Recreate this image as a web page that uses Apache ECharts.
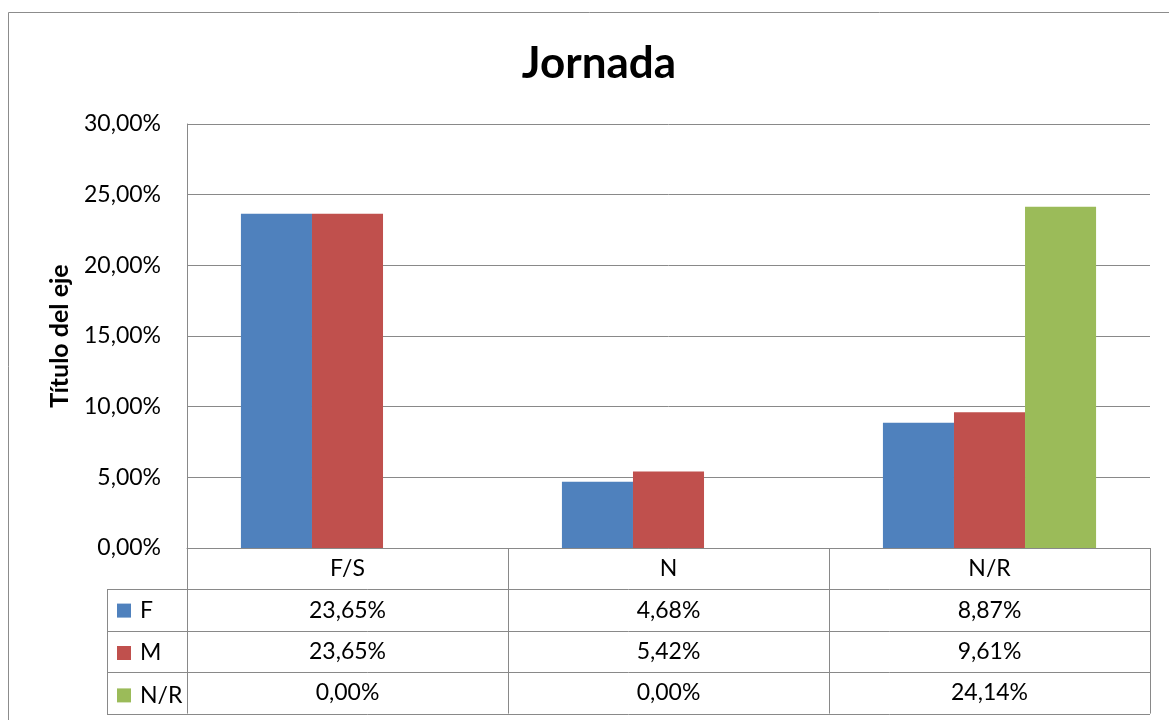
<!DOCTYPE html>
<html><head><meta charset="utf-8">
<script src="https://cdn.jsdelivr.net/npm/echarts@6/dist/echarts.min.js"></script>
<style>html,body{margin:0;padding:0;background:#fff}#c{width:1169px;height:720px}</style>
</head><body><div id="c"></div>
<script>
// ---- data ----
const categories = ['F/S', 'N', 'N/R'];
const seriesNames = ['F', 'M', 'N/R'];
const valuesF  = [0.2365, 0.0468, 0.0887];
const valuesM  = [0.2365, 0.0542, 0.0961];
const valuesNR = [0.0000, 0.0000, 0.2414];
const yMin = 0, yMax = 0.30, yStep = 0.05;
const titleText = 'Jornada';
const yAxisTitle = 'Título del eje';

// ---- style ----
const colors = ['#4F81BD', '#C0504D', '#9BBB59'];
const FONT = 'Lato';
const FS = 23;
const lineCol = '#898989';
const gridL = 187, gridR = 1150, gridT = 124, gridB = 548;
const rowH = 41.4;
const W = 1169, H = 720;

const allValues = [valuesF, valuesM, valuesNR];
const pct = v => (v * 100).toFixed(2).replace('.', ',') + '%';

const xAxes = [{
  type: 'category', data: categories, position: 'bottom', gridIndex: 0,
  axisLine: { show: true, lineStyle: { color: lineCol, width: 1 } },
  axisTick: { show: true, length: rowH * 4, interval: 0, lineStyle: { color: lineCol, width: 1 } },
  axisLabel: { show: true, interval: 0, margin: rowH / 2, verticalAlign: 'middle',
    fontFamily: FONT, fontSize: FS, color: '#000' }
}];
allValues.forEach((vals, k) => {
  xAxes.push({
    type: 'category', data: categories, position: 'bottom', offset: rowH * (k + 1),
    axisLine: { show: false }, axisTick: { show: false }, splitLine: { show: false },
    axisLabel: { show: true, interval: 0, margin: rowH / 2, verticalAlign: 'middle',
      fontFamily: FONT, fontSize: FS, color: '#000',
      formatter: (val, idx) => pct(vals[idx]) }
  });
});

const graphics = [
  { type: 'rect', shape: { x: 8.5, y: 12.5, width: 1300, height: 900 },
    style: { fill: 'none', stroke: '#8c8c8c', lineWidth: 1 }, silent: true, z: -1 }
];
for (let k = 1; k <= 4; k++) {
  const y = Math.round(gridB + rowH * k) + 0.5;
  graphics.push({ type: 'line', shape: { x1: 107, y1: y, x2: gridR, y2: y },
    style: { stroke: lineCol, lineWidth: 1 }, silent: true });
}
graphics.push({ type: 'line',
  shape: { x1: 107.5, y1: Math.round(gridB + rowH) + 0.5, x2: 107.5, y2: Math.round(gridB + rowH * 4) + 0.5 },
  style: { stroke: lineCol, lineWidth: 1 }, silent: true });

const legendLH = 22;
const option = {
  animation: false,
  backgroundColor: '#fff',
  color: colors,
  title: {
    text: titleText, left: 594, top: 37, textAlign: 'center',
    textStyle: { fontFamily: FONT, fontWeight: 'bold', fontSize: 44, color: '#000' }
  },
  legend: {
    orient: 'vertical', left: 117, top: gridB + rowH * 1.5 - legendLH / 2,
    height: 160, width: 70,
    itemWidth: 14, itemHeight: 14, itemGap: rowH - legendLH, padding: 0,
    icon: 'rect', selectedMode: false,
    textStyle: { fontFamily: FONT, fontSize: FS, color: '#000', lineHeight: legendLH,
      padding: [0, 0, 0, 4] },
    data: seriesNames
  },
  grid: { left: gridL, right: W - gridR, top: gridT, bottom: H - gridB, containLabel: false },
  xAxis: xAxes,
  yAxis: {
    type: 'value', min: yMin, max: yMax, interval: yStep,
    name: yAxisTitle, nameLocation: 'middle', nameRotate: 90, nameGap: 115,
    nameTextStyle: { fontFamily: FONT, fontWeight: 'bold', fontSize: 25, color: '#000' },
    axisLine: { show: true, lineStyle: { color: lineCol } },
    axisTick: { show: false },
    splitLine: { show: true, lineStyle: { color: lineCol, width: 1 } },
    axisLabel: { margin: 26, fontFamily: FONT, fontSize: FS, color: '#000',
      formatter: v => pct(v) }
  },
  series: allValues.map((vals, k) => ({
    name: seriesNames[k], type: 'bar', data: vals,
    barGap: '0%', barCategoryGap: '33.6%',
    itemStyle: { color: colors[k] }
  })),
  graphic: graphics
};

const chart = echarts.init(document.getElementById('c'), null, { renderer: 'canvas' });
chart.setOption(option);
</script>
</body></html>
